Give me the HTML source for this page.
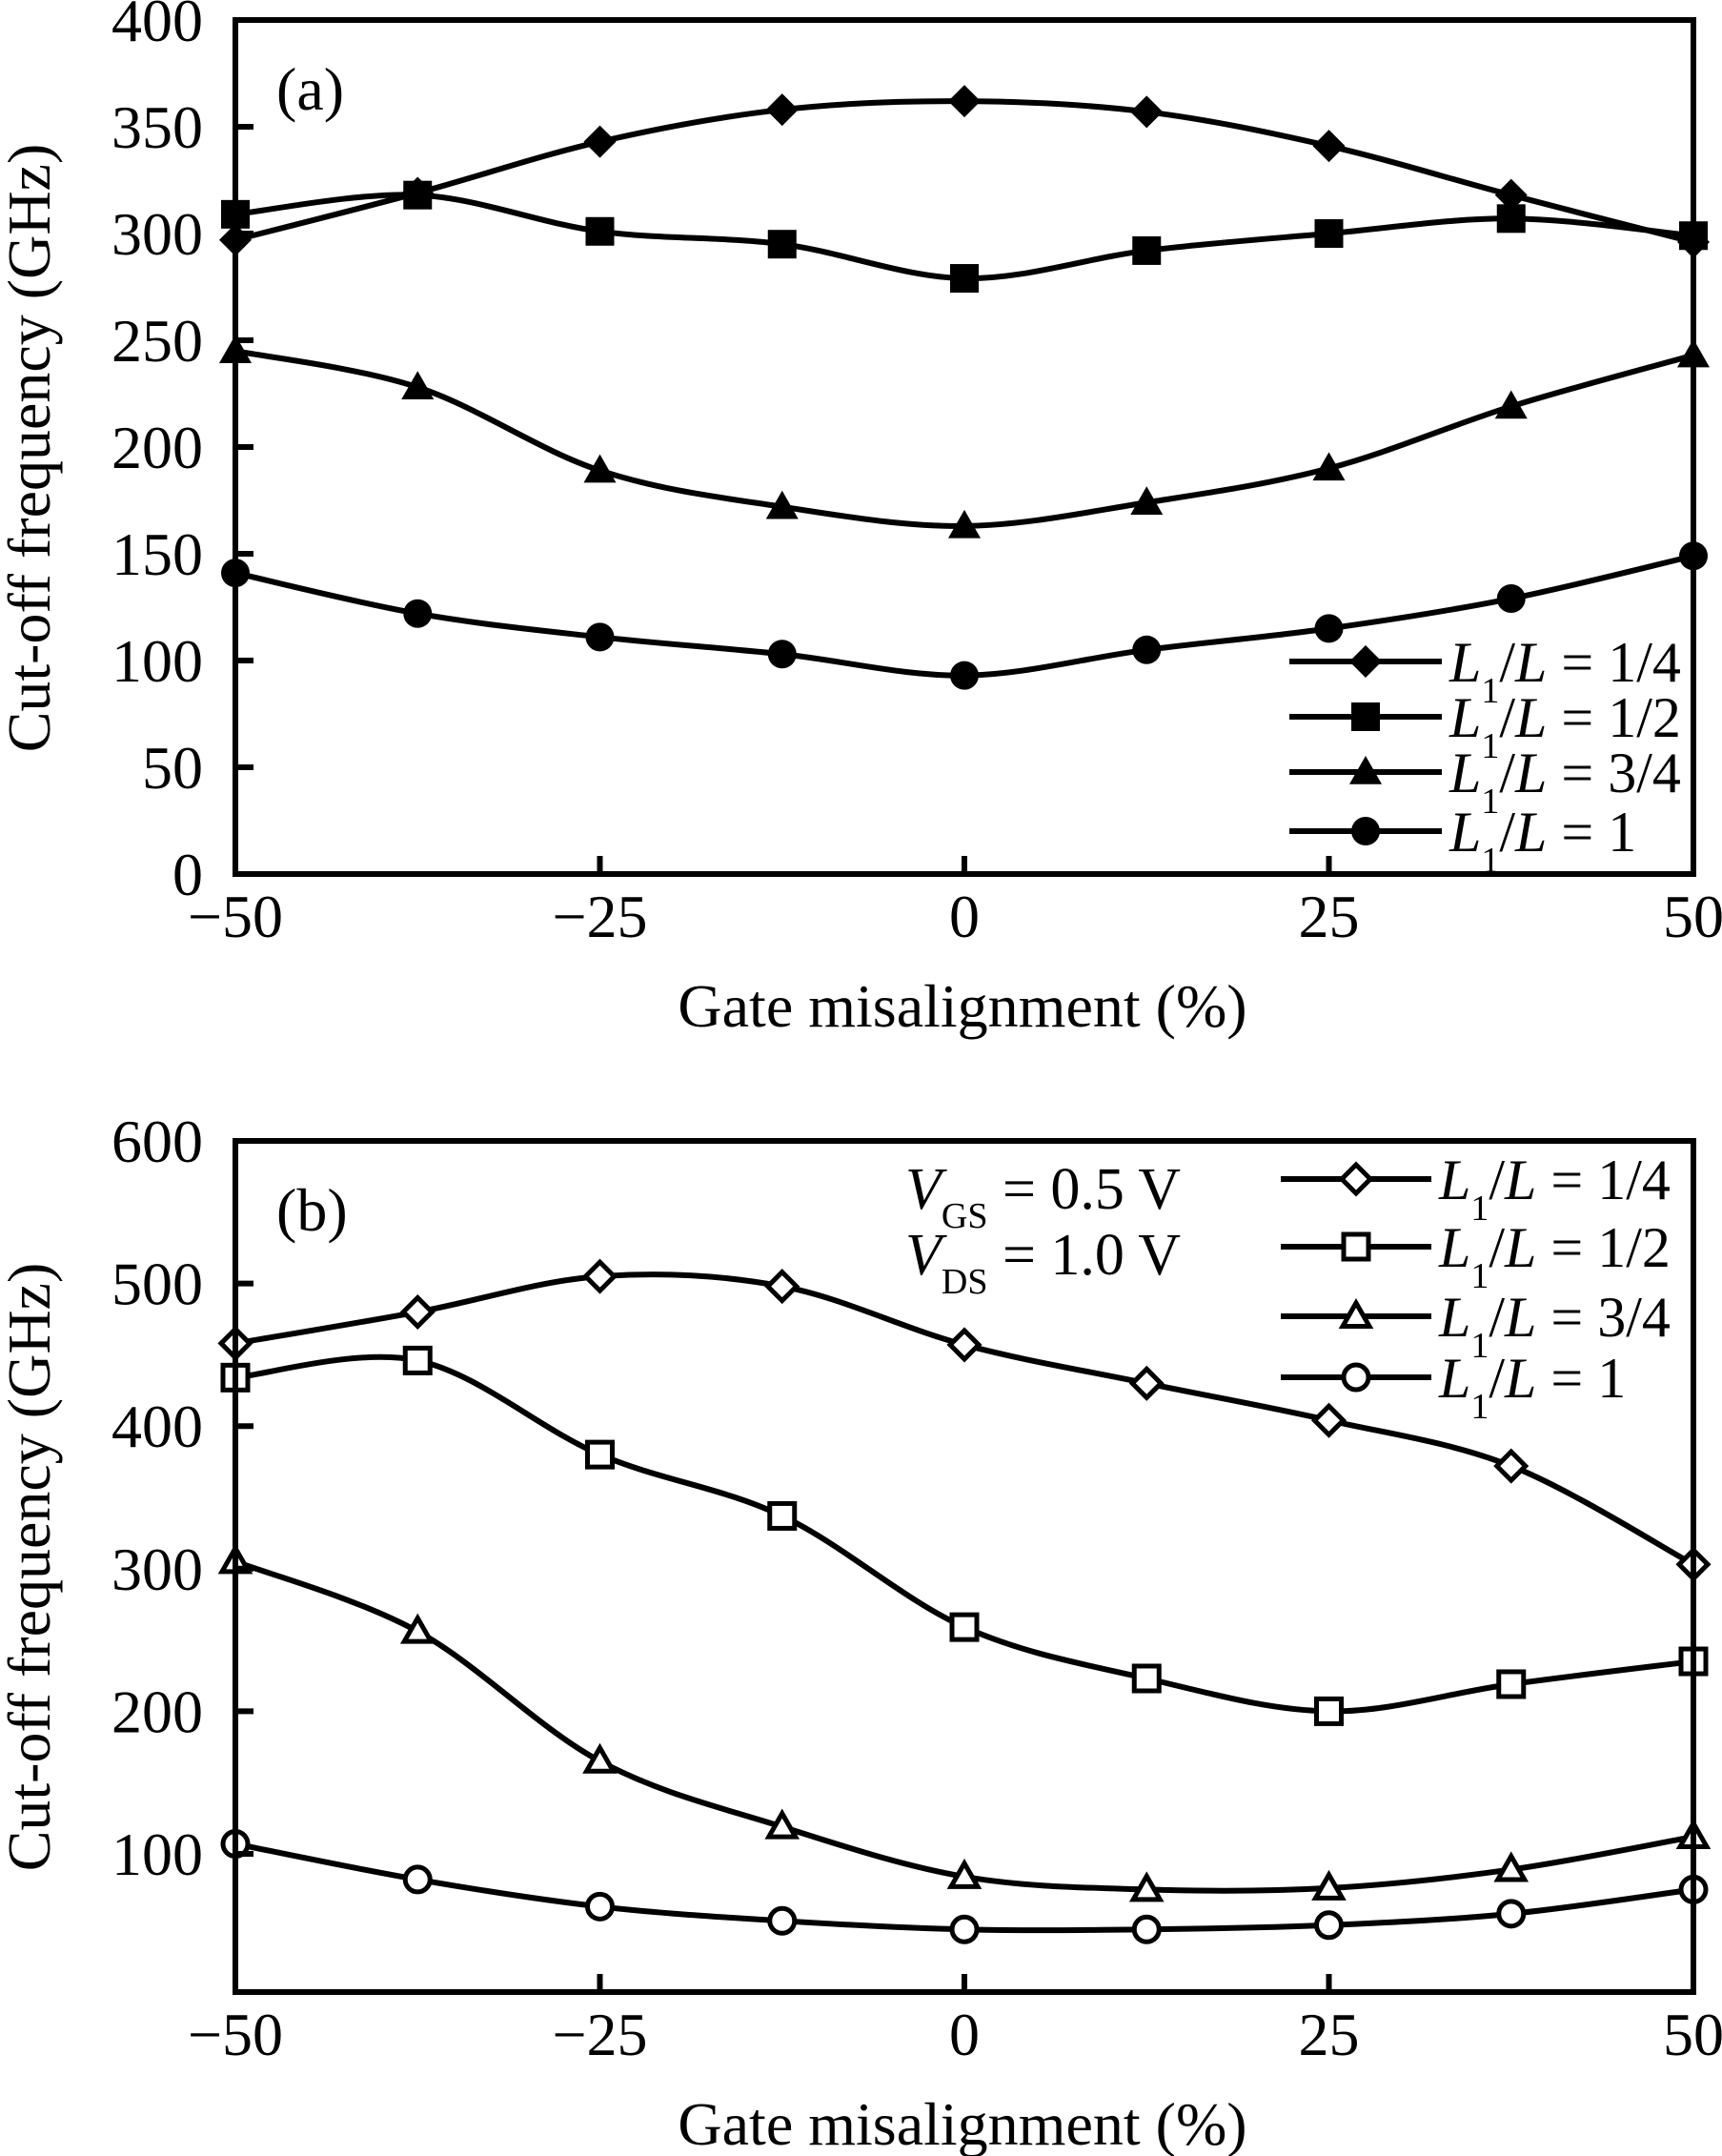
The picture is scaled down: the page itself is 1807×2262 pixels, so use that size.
<!DOCTYPE html>
<html><head><meta charset="utf-8">
<style>
html,body{margin:0;padding:0;background:#fff;}
svg{display:block;}
text{font-family:"Liberation Serif",serif;fill:#000;}
</style></head>
<body>
<svg id="chart" width="1807" height="2262" viewBox="0 0 1807 2262" xmlns="http://www.w3.org/2000/svg"></svg>
<script>
const xCats = [-50,-37.5,-25,-12.5,0,12.5,25,37.5,50];
const xTicks = [-50,-25,0,25,50];
const xTickLabels = ["\u221250","\u221225","0","25","50"];
const aTicks = [0,50,100,150,200,250,300,350,400];
const bTicks = [100,200,300,400,500,600];
const seriesNames = ["1/4","1/2","3/4","1"];
const a_q14 = [297,319,343,358,362,357,341,318,296];
const a_q12 = [309,318,301,295,279,292,300,307,299];
const a_q34 = [245,228,189,172,163,174,190,219,243];
const a_q1  = [141,122,111,103,93,105,115,129,149];
const b_q14 = [458,480,505,498,457,430,404,372,303];
const b_q12 = [434,446,380,337,259,223,200,219,235];
const b_q34 = [305,256,165,119,84,75,76,89,112];
const b_q1  = [107,82,63,53,47,47,50,58,75];

const NS="http://www.w3.org/2000/svg";
const svg=document.getElementById('chart');
function mk(tag,attrs,parent){const e=document.createElementNS(NS,tag);for(const k in attrs)e.setAttribute(k,attrs[k]);(parent||svg).appendChild(e);return e;}
const X0=247,X1=1777;
function xs(v){return X0+(v+50)/100*(X1-X0);}

function spline(pts){
  let d=`M${pts[0][0]},${pts[0][1]}`;
  for(let i=0;i<pts.length-1;i++){
    const p0=pts[i-1]||pts[i],p1=pts[i],p2=pts[i+1],p3=pts[i+2]||pts[i+1];
    const c1=[p1[0]+(p2[0]-p0[0])/6,p1[1]+(p2[1]-p0[1])/6];
    const c2=[p2[0]-(p3[0]-p1[0])/6,p2[1]-(p3[1]-p1[1])/6];
    d+=` C${c1[0]},${c1[1]} ${c2[0]},${c2[1]} ${p2[0]},${p2[1]}`;
  }
  return d;
}
function marker(g,kind,x,y,filled){
  const fill=filled?'#000':'#fff';const sw=filled?0:5;
  let m;
  if(kind===0){const r=filled?17:15;m=mk('polygon',{points:`${x},${y-r} ${x+r},${y} ${x},${y+r} ${x-r},${y}`,fill:fill,stroke:'#000','stroke-width':sw},g);}
  else if(kind===1){const s=filled?15:13;m=mk('rect',{x:x-s,y:y-s,width:2*s,height:2*s,fill:fill,stroke:'#000','stroke-width':sw},g);}
  else if(kind===2){const s=filled?17:14;m=mk('polygon',{points:`${x},${y-s} ${x+s},${y+s*0.75} ${x-s},${y+s*0.75}`,fill:fill,stroke:'#000','stroke-width':sw},g);}
  else {m=mk('circle',{cx:x,cy:y,r:filled?15:13,fill:fill,stroke:'#000','stroke-width':sw},g);}
  
  
}
function panel(cfg){
  const g=mk('g',{});
  
  
  function Y(v){return cfg.ybot0 - v*cfg.ppu;}
  cfg.series.forEach((vals,si)=>{
    const pts=xCats.map((c,i)=>[xs(c),Y(vals[i])]);
    const p=mk('path',{d:spline(pts),fill:'none',stroke:'#000','stroke-width':6,'stroke-linejoin':'round'},g);
    
    
    pts.forEach(pt=>marker(g,si,pt[0],pt[1],cfg.filled));
  });
  const fr=mk('rect',{x:X0,y:cfg.top,width:X1-X0,height:cfg.bottom-cfg.top,fill:'none',stroke:'#000','stroke-width':6},g);
  
  
  cfg.yticks.forEach(t=>{
    const y=Y(t);
    if(y>cfg.top+4&&y<cfg.bottom-4){mk('line',{x1:X0,y1:y,x2:X0+19,y2:y,stroke:'#000','stroke-width':6},g);}
    const tx=mk('text',{x:213,y:y+22,'font-size':64,'text-anchor':'end'},g);
    tx.textContent=String(t);
    
    
  });
  xTicks.forEach((t,i)=>{
    const x=xs(t);
    if(i>0&&i<xTicks.length-1)mk('line',{x1:x,y1:cfg.bottom,x2:x,y2:cfg.bottom-19,stroke:'#000','stroke-width':6},g);
    const tx=mk('text',{x:x,y:cfg.bottom+66,'font-size':64,'text-anchor':'middle'},g);
    tx.textContent=xTickLabels[i];
    
    
  });
  const xt=mk('text',{x:1010,y:cfg.bottom+160,'font-size':64,'text-anchor':'middle'},g);
  xt.textContent='Gate misalignment (%)';
  
  
  const yt=mk('text',{x:0,y:0,'font-size':64,'text-anchor':'middle',transform:`translate(52,${cfg.ytitleY}) rotate(-90)`},g);
  yt.textContent='Cut-off frequency (GHz)';
  
  
  const pl=mk('text',{x:290,y:cfg.top+94,'font-size':64},g);
  pl.textContent=cfg.label;
  
  
  cfg.legRows.forEach((ly,i)=>{
    const le=mk('g',{},g);
    
    
    mk('line',{x1:cfg.legX0,y1:ly,x2:cfg.legX1,y2:ly,stroke:'#000','stroke-width':6},le);
    marker(le,i,(cfg.legX0+cfg.legX1)/2,ly,cfg.filled);
    const t=mk('text',{x:cfg.legX1+8,y:ly+21,'font-size':60},le);
    t.innerHTML=`<tspan font-style="italic">L</tspan><tspan font-size="38" dy="22">1</tspan><tspan dy="-22">/</tspan><tspan font-style="italic">L</tspan> = ${seriesNames[i]}`;
  });
}
panel({name:'panel-a',top:21,bottom:917,ybot0:917,ppu:(917-21)/400,yticks:aTicks,filled:true,
  series:[a_q14,a_q12,a_q34,a_q1],label:'(a)',ytitleY:470,
  legRows:[694,752,810,872],legX0:1353,legX1:1513});
panel({name:'panel-b',top:1197,bottom:2090,ybot0:1197+6*149.6,ppu:149.6/100,yticks:bTicks,filled:false,
  series:[b_q14,b_q12,b_q34,b_q1],label:'(b)',ytitleY:1644,
  legRows:[1237,1308,1381,1445],legX0:1344,legX1:1502});
const an=mk('text',{x:950,y:1268,'font-size':62});
an.innerHTML='<tspan font-style="italic">V</tspan><tspan font-size="38" dy="20">GS</tspan><tspan dy="-20"> = 0.5 V</tspan>';


const an2=mk('text',{x:950,y:1337,'font-size':62});
an2.innerHTML='<tspan font-style="italic">V</tspan><tspan font-size="38" dy="20">DS</tspan><tspan dy="-20"> = 1.0 V</tspan>';


</script>
</body></html>
